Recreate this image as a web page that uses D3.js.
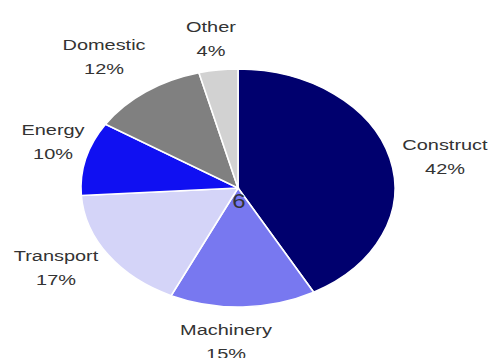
<!DOCTYPE html>
<html><head><meta charset="utf-8">
<script src="https://cdn.jsdelivr.net/npm/d3@7"></script>
<style>body{margin:0;background:#fff}svg{display:block}</style>
</head><body>
<svg id="c" width="493" height="358"></svg>
<script>
const categories = ["Construct","Machinery","Transport","Energy","Domestic","Other"];
const values = [42,15,17,10,12,4];
const colors = ["#00006e","#7878f0","#d4d4f8","#1010f2","#808080","#d2d2d2"];
const labelPos = [[445,150],[226,335],[56,261],[53,135],[104,50],[211,32]];

const svg = d3.select("#c");
const cx = 238, cy = 188, rx = 157, ry = 119;
const pie = d3.pie().sort(null).value(d => d)(values);
const arc = d3.arc().innerRadius(0).outerRadius(1);

const g = svg.append("g").attr("transform", `translate(${cx},${cy}) scale(${rx},${ry})`);
g.selectAll("path").data(pie).join("path")
  .attr("d", arc)
  .attr("fill", (d,i) => colors[i])
  .attr("stroke", "#fff")
  .attr("stroke-width", 1.6)
  .attr("vector-effect", "non-scaling-stroke");

const sx = 1.33;
categories.forEach((c,i) => {
  const [x,y] = labelPos[i];
  const t = svg.append("g").attr("transform", `translate(${x},${y}) scale(${sx},1)`);
  t.append("text").attr("text-anchor","middle").attr("y",0)
    .attr("font-family","Liberation Sans, Arial, sans-serif").attr("font-size",15)
    .attr("fill","#333").text(c);
  t.append("text").attr("text-anchor","middle").attr("y",24)
    .attr("font-family","Liberation Sans, Arial, sans-serif").attr("font-size",15)
    .attr("fill","#333").text(values[i] + "%");
});

svg.append("g").attr("transform", `translate(239,208) scale(1.2,1)`)
  .append("text").attr("text-anchor","middle")
  .attr("font-family","Liberation Sans, Arial, sans-serif").attr("font-size",20)
  .attr("fill","#333").text("6");
</script>
</body></html>
